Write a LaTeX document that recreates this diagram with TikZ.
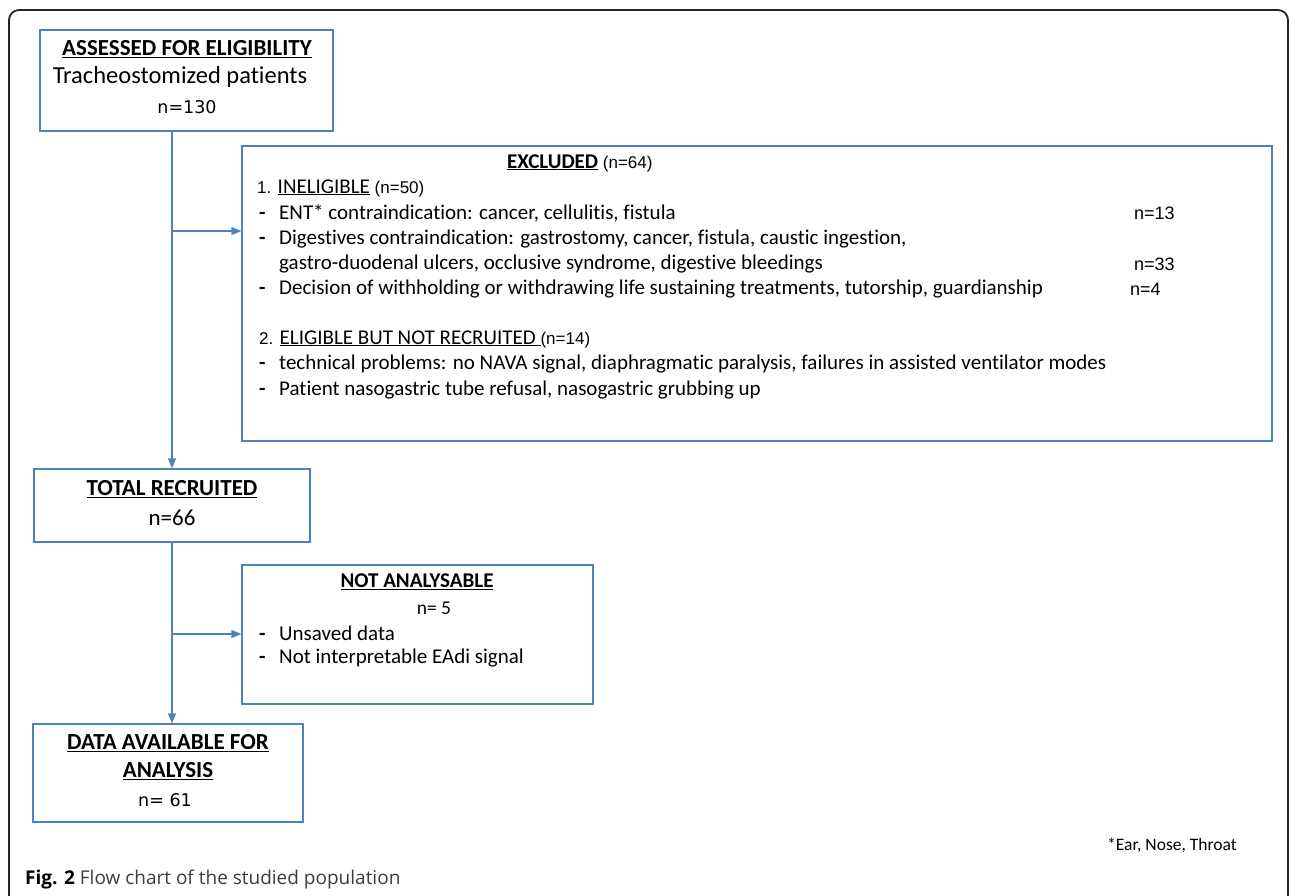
\documentclass[tikz,border=0pt]{standalone}
\usepackage{fontspec}
\setmainfont{Carlito}[Ligatures=NoCommon]
\newfontfamily\arialf{Liberation Sans}
\newfontfamily\verdf{DejaVu Sans}
\newfontfamily\captionf{Open Sans}
\usetikzlibrary{arrows.meta}
\definecolor{boxblue}{RGB}{79,129,189}
\definecolor{capgray}{RGB}{60,60,60}

\newcommand{\smallnum}[1]{{\mdseries\arialf\fontsize{17}{19}\selectfont #1}}

\tikzset{
    box/.style={draw=boxblue, line width=1.3pt, inner sep=0},
    txt/.style={anchor=west, inner sep=0, font=\fontsize{21}{24}\selectfont},
    ctxt/.style={inner sep=0, font=\fontsize{21}{24}\selectfont},
    head/.style={inner sep=0, font=\bfseries\fontsize{23}{26}\selectfont},
    num/.style={anchor=west, inner sep=0, font=\arialf\fontsize{18}{20}\selectfont},
    flow/.style={->, boxblue, line width=1.3pt}
}

\begin{document}
\begin{tikzpicture}[
    x=1pt,
    y=-1pt,
    >={Triangle[length=10pt,width=8pt]}
]
    \useasboundingbox (0,0) rectangle (1290,896);

    % Cadre
    \draw[
        line width=1.8pt,
        black!85,
        rounded corners=10pt
    ] (9,905) -- (9,10) -- (1288,10) -- (1288,905);

    % Assessed
    \node[box, minimum width=293pt, minimum height=101pt] (assess) at (186.5,80.5) {};
    \node[head] (assesshd) at (187,49) {\underline{ASSESSED FOR ELIGIBILITY}};
    \node[ctxt, font=\fontsize{24.5}{28}\selectfont] (trach) at (180,77) {Tracheostomized patients};
    \node[ctxt, font=\verdf\fontsize{17.5}{20}\selectfont] (n130) at (187,107) {n=130};

    % Excluded
    \node[box, minimum width=1030pt, minimum height=295pt] (excl) at (757,293.5) {};
    \node[txt] (exclhd) at (507,163) {\bfseries\underline{EXCLUDED} \smallnum{(n=64)}};
    \node[txt] (inel) at (257,188) {\smallnum{1.} \underline{INELIGIBLE} \smallnum{(n=50)}};
    \node[txt] (ent) at (259,213) {\makebox[20pt][l]{\bfseries -}ENT* contraindication: cancer, cellulitis, fistula};
    \node[txt] (dig) at (259,239) {\makebox[20pt][l]{\bfseries -}Digestives contraindication: gastrostomy, cancer, fistula, caustic ingestion,};
    \node[txt] (digb) at (279,264) {gastro-duodenal ulcers, occlusive syndrome, digestive bleedings};
    \node[txt] (dec) at (259,289) {\makebox[20pt][l]{\bfseries -}Decision of withholding or withdrawing life sustaining treatments, tutorship, guardianship};
    \node[num] (n13) at (1134,213) {n=13};
    \node[num] (n33) at (1134,264) {n=33};
    \node[num] (n4) at (1130,289) {n=4};
    \node[txt] (elig) at (259,339) {\smallnum{2.} \underline{ELIGIBLE BUT NOT RECRUITED }\smallnum{(n=14)}};
    \node[txt] (tech) at (259,364) {\makebox[20pt][l]{\bfseries -}technical problems: no NAVA signal, diaphragmatic paralysis, failures in assisted ventilator modes};
    \node[txt] (pat) at (259,390) {\makebox[20pt][l]{\bfseries -}Patient nasogastric tube refusal, nasogastric grubbing up};

    % Total recruited
    \node[box, minimum width=276pt, minimum height=73pt] (recr) at (172,505.5) {};
    \node[head] (recrhd) at (172,489) {\underline{TOTAL RECRUITED}};
    \node[ctxt, font=\fontsize{23}{26}\selectfont] (n66) at (172,518) {n=66};

    % Not analysable
    \node[box, minimum width=351pt, minimum height=139pt] (notan) at (417.5,634.5) {};
    \node[head, font=\bfseries\fontsize{21}{24}\selectfont] (notanhd) at (417,582) {\underline{NOT ANALYSABLE}};
    \node[ctxt, font=\fontsize{19.5}{22}\selectfont] (n5) at (434,608) {n= 5};
    \node[txt] (unsav) at (259,633) {\makebox[20pt][l]{\bfseries -}Unsaved data};
    \node[txt] (eadi) at (259,658) {\makebox[20pt][l]{\bfseries -}Not interpretable EAdi signal};

    % Data available
    \node[box, minimum width=270pt, minimum height=98pt] (avail) at (168,773) {};
    \node[head] (availhd) at (168,743) {\underline{DATA AVAILABLE FOR}};
    \node[head] (availhdb) at (168,771) {\underline{ANALYSIS}};
    \node[ctxt, font=\verdf\fontsize{17.5}{20}\selectfont] (n61) at (165,800) {n= 61};

    % Fleches
    \draw[flow] (recr.north |- assess.south) -- (recr.north);
    \coordinate (br1) at (173,231);
    \draw[flow] (br1) -- (br1 -| excl.west);
    \draw[flow] (recr.south) -- (recr.south |- avail.north);
    \coordinate (br2) at (173,634);
    \draw[flow] (br2) -- (br2 -| notan.west);

    % Notes
    \node[txt, font=\fontsize{17.5}{20}\selectfont] (foot) at (1107,845) {*Ear, Nose, Throat};
    \node[txt, font=\captionf\fontsize{19}{22}\selectfont, text=capgray] (cap) at (25,880) {{\bfseries\color{black}Fig. 2} Flow chart of the studied population};

\end{tikzpicture}
\end{document}
